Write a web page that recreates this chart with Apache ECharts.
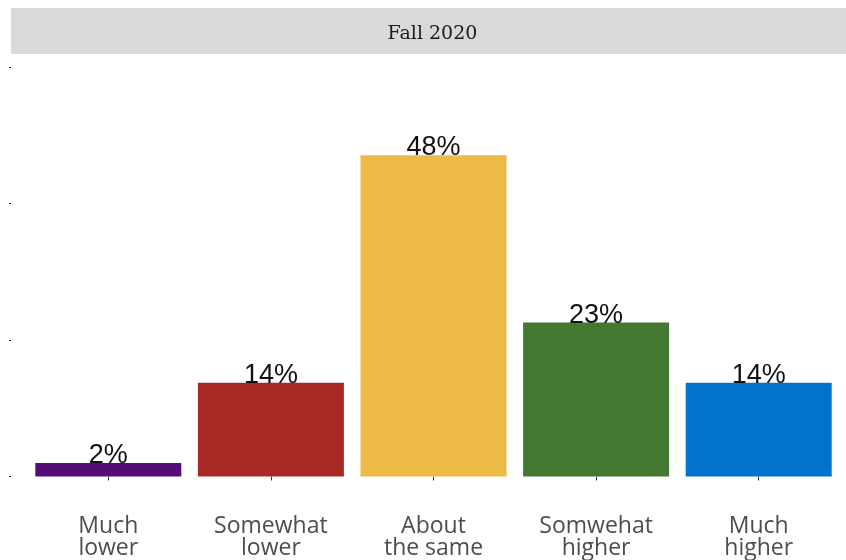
<!DOCTYPE html>
<html>
<head>
<meta charset="utf-8">
<script src="https://cdn.jsdelivr.net/npm/echarts@6/dist/echarts.min.js"></script>
<style>html,body{margin:0;padding:0;background:#fff;}#c{width:846px;height:560px;}</style>
</head>
<body>
<div id="c"></div>
<script>
var categories = ['Much\nlower', 'Somewhat\nlower', 'About\nthe same', 'Somwehat\nhigher', 'Much\nhigher'];
var values = [2, 14, 48, 23, 14];
var labels = ['2%', '14%', '48%', '23%', '14%'];
var colors = ['#540c78', '#a82823', '#eeba47', '#437831', '#0073cf'];
var facetTitle = 'Fall 2020';
var yMax = 61.2;
var yInterval = 20.4;

var chart = echarts.init(document.getElementById('c'), null, {renderer: 'canvas'});
chart.setOption({
  animation: false,
  backgroundColor: '#ffffff',
  grid: {left: 27, right: 6, top: 67, bottom: 83.5, containLabel: false},
  graphic: [
    {type: 'rect', shape: {x: 11, y: 8, width: 835, height: 46}, style: {fill: '#d9d9d9'}, silent: true},
    {type: 'text', x: 432.5, y: 34, style: {text: facetTitle, fontFamily: 'DejaVu Serif', fontSize: 19, fill: '#1a1a1a', align: 'center', verticalAlign: 'middle'}}
  ],
  xAxis: {
    type: 'category',
    data: categories,
    offset: 21,
    axisLine: {show: false},
    axisTick: {show: true, alignWithLabel: true, length: 4, lineStyle: {color: '#333333', width: 1}},
    axisLabel: {color: '#4d4d4d', fontFamily: 'Open Sans', fontSize: 23, lineHeight: 22, margin: 18, interval: 0}
  },
  yAxis: {
    type: 'value',
    min: 0,
    max: yMax,
    interval: yInterval,
    offset: 16,
    axisLine: {show: false},
    axisTick: {show: true, length: 2, lineStyle: {color: '#333333', width: 1}},
    axisLabel: {show: false},
    splitLine: {show: false}
  },
  series: [{
    type: 'bar',
    barWidth: 146,
    data: values.map(function (v, i) { return {value: v, itemStyle: {color: colors[i]}}; }),
    label: {
      show: true,
      position: 'top',
      distance: -6,
      formatter: function (p) { return labels[p.dataIndex]; },
      fontFamily: 'Liberation Sans',
      fontSize: 27,
      color: '#111111'
    }
  }]
});
</script>
</body>
</html>
